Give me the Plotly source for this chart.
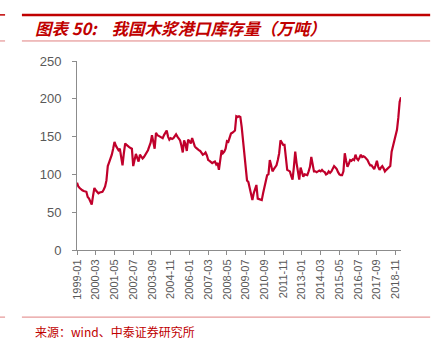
import plotly.graph_objects as go

months = [f"{y}-{m:02d}" for y in range(1999, 2020) for m in range(1, 13)][:243]

v1999 = [89, 84, 82, 80, 79, 78, 77, 77, 70, 68, 64, 60]
v2000 = [72, 82, 79, 77, 75, 76, 77, 77, 80, 84, 92, 111]
v2001 = [116, 120, 126, 134, 143, 138, 135, 132, 134, 122, 112, 128]
v2002 = [141, 139, 137, 136, 135, 134, 111, 120, 127, 122, 117, 126]
v2003 = [124, 121, 123, 126, 128, 132, 137, 142, 152, 140, 134, 155]
v2004 = [152, 151, 150, 149, 148, 152, 155, 158, 150, 146, 148, 147]
v2005 = [148, 150, 153, 150, 147, 145, 138, 129, 145, 140, 131, 146]
v2006 = [144, 141, 148, 142, 137, 135, 133, 132, 131, 128, 126, 127]
v2007 = [129, 125, 119, 118, 117, 115, 116, 117, 113, 115, 106, 120]
v2008 = [132, 128, 130, 134, 144, 143, 148, 154, 155, 156, 158, 177]
v2009 = [176, 177, 176, 163, 145, 128, 115, 92, 90, 82, 74, 66]
v2010 = [75, 80, 86, 68, 67, 66, 66, 75, 84, 88, 99, 100]
v2011 = [119, 112, 104, 107, 110, 112, 119, 128, 145, 141, 139, 139]
v2012 = [122, 106, 105, 104, 98, 93, 110, 130, 115, 105, 93, 109]
v2013 = [102, 97, 100, 99, 99, 104, 110, 123, 112, 104, 104, 103]
v2014 = [104, 105, 104, 106, 104, 103, 100, 101, 104, 102, 104, 108]
v2015 = [111, 109, 107, 103, 100, 99, 99, 104, 128, 118, 110, 114]
v2016 = [119, 118, 120, 119, 126, 121, 119, 122, 126, 123, 124, 123]
v2017 = [121, 119, 115, 112, 112, 110, 107, 112, 118, 110, 106, 109]
v2018 = [111, 108, 104, 106, 108, 110, 111, 130, 138, 145, 152, 159]
v2019 = [175, 196, 202]

values = (v1999 + v2000 + v2001 + v2002 + v2003 + v2004 + v2005 + v2006 + v2007
          + v2008 + v2009 + v2010 + v2011 + v2012 + v2013 + v2014 + v2015
          + v2016 + v2017 + v2018 + v2019)

tick_labels = months[::14]
y_ticks = [0, 50, 100, 150, 200, 250]

title_text = "图表\u00a050:\u00a0\u00a0\u00a0\u00a0我国木浆港口库存量（万吨）"
source_text = "来源：wind、中泰证券研究所"

RED = "#C00000"
GRAY = "#595959"
AXIS = "#8C8C8C"

fig = go.Figure()
fig.add_trace(go.Scatter(
    x=months, y=values, mode="lines",
    line=dict(color="#C0002B", width=2.2),
    hoverinfo="skip", showlegend=False,
))

fig.update_layout(
    width=433, height=343,
    margin=dict(l=77, r=32, t=61, b=93),
    paper_bgcolor="white", plot_bgcolor="white",
    font=dict(family="Liberation Sans, Arial, sans-serif", color=GRAY),
    xaxis=dict(
        type="category", range=[0, 242],
        tickmode="array", tickvals=tick_labels, ticktext=tick_labels,
        tickangle=-90, tickfont=dict(size=11, color=GRAY),
        showline=True, linecolor=AXIS, linewidth=1,
        ticks="outside", ticklen=4, tickcolor=AXIS,
        showgrid=False, zeroline=False,
    ),
    yaxis=dict(
        range=[0, 250], tickvals=y_ticks,
        tickfont=dict(size=13, color=GRAY),
        showline=True, linecolor=AXIS, linewidth=1,
        ticks="outside", ticklen=4, tickcolor=AXIS,
        ticklabelstandoff=8,
        showgrid=False, zeroline=False,
    ),
    shapes=[
        dict(type="line", xref="paper", yref="paper", x0=-0.17, x1=1.09, y0=1.244, y1=1.244,
             line=dict(color=RED, width=2.5)),
        dict(type="line", xref="paper", yref="paper", x0=-0.238, x1=-0.222, y0=1.244, y1=1.244,
             line=dict(color=RED, width=1.5)),
        dict(type="line", xref="paper", yref="paper", x0=-0.17, x1=1.09, y0=1.106, y1=1.106,
             line=dict(color="#E08080", width=1)),
        dict(type="line", xref="paper", yref="paper", x0=-0.238, x1=-0.222, y0=1.106, y1=1.106,
             line=dict(color="#E08080", width=1)),
        dict(type="line", xref="paper", yref="paper", x0=-0.17, x1=1.09, y0=-0.355, y1=-0.355,
             line=dict(color="#E08080", width=1)),
        dict(type="line", xref="paper", yref="paper", x0=-0.238, x1=-0.222, y0=-0.355, y1=-0.355,
             line=dict(color="#E08080", width=1)),
    ],
    annotations=[
        dict(text=title_text, xref="paper", yref="paper", x=-0.136, y=1.175,
             xanchor="left", yanchor="middle", showarrow=False,
             font=dict(family="Noto Sans CJK SC", size=16.5, color=RED, weight="bold", style="italic")),
        dict(text=source_text, xref="paper", yref="paper", x=-0.136, y=-0.432,
             xanchor="left", yanchor="middle", showarrow=False,
             font=dict(family="Noto Sans CJK SC", size=12, color=RED)),
    ],
)

fig.write_html("out.html")
